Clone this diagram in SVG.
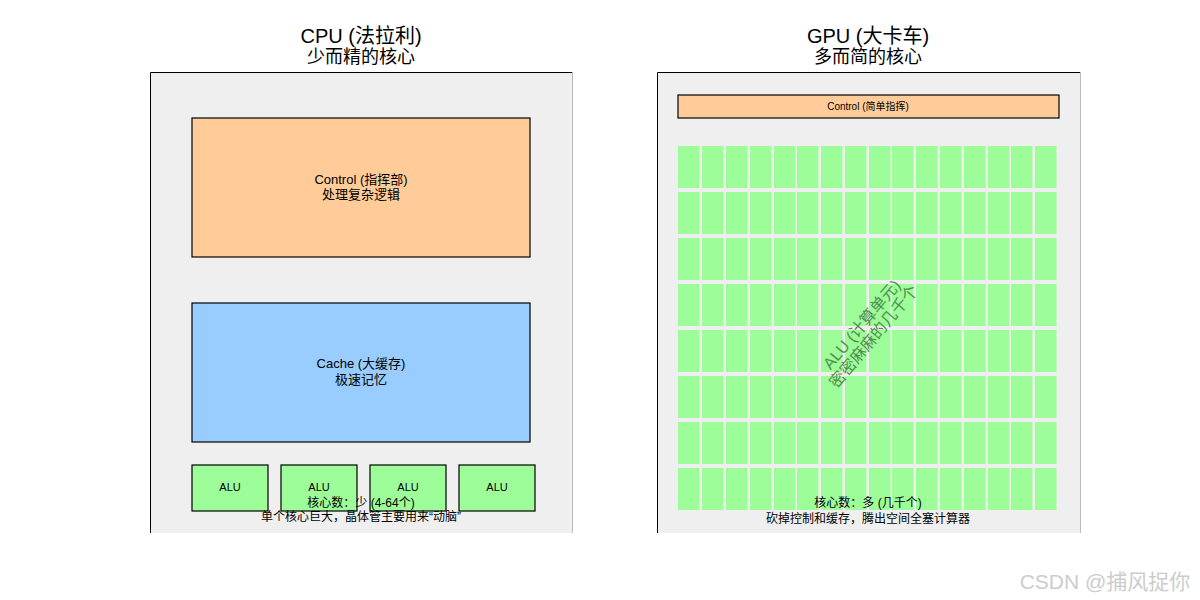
<svg xmlns="http://www.w3.org/2000/svg" width="1200" height="600" viewBox="0 0 1200 600">
<style>
text{font-family:"Liberation Sans","Noto Sans CJK SC",sans-serif;fill:#000;text-anchor:middle}
.panel{fill:#efefef}
.edge{stroke:#000;stroke-width:1;fill:none}
.edge2{stroke:#bbb;stroke-width:1;fill:none}
.box{stroke:#000;stroke-width:1.2}
.alu{fill:#9dfd98}
.t{font-size:20px}
.s{font-size:13px}
.xs{font-size:11px}
</style>
<rect width="1200" height="600" fill="#fff"/>
<g id="cpu">
<text class="t" x="361" y="43">CPU (法拉利)</text>
<text class="t" x="361" y="63" style="font-size:18px">少而精的核心</text>
<rect class="panel" x="150" y="72" width="422" height="461"/>
<path class="edge" d="M150.5 533V72.5H572"/>
<path class="edge2" d="M572.5 72V533"/>
<g id="cpu-control"><rect class="box" x="192" y="118" width="338" height="139" fill="#ffcc99"/>
<text class="s" x="361" y="184">Control (指挥部)</text><text class="s" x="361" y="199">处理复杂逻辑</text></g>
<g id="cpu-cache"><rect class="box" x="192" y="303" width="338" height="139" fill="#99ccff"/>
<text class="s" x="361" y="368">Cache (大缓存)</text><text class="s" x="361" y="384">极速记忆</text></g>
<g id="cpu-alus">
<rect class="box alu" x="192" y="465" width="76" height="46"/><text class="xs" x="230" y="491">ALU</text>
<rect class="box alu" x="281" y="465" width="76" height="46"/><text class="xs" x="319" y="491">ALU</text>
<rect class="box alu" x="370" y="465" width="76" height="46"/><text class="xs" x="408" y="491">ALU</text>
<rect class="box alu" x="459" y="465" width="76" height="46"/><text class="xs" x="497" y="491">ALU</text>
</g>
<text class="s" x="361" y="507" style="font-size:12px">核心数：少 (4-64个)</text>
<text class="s" x="361" y="521" style="font-size:12px">单个核心巨大，晶体管主要用来“动脑”</text>
</g>
<g id="gpu">
<text class="t" x="868" y="43">GPU (大卡车)</text>
<text class="t" x="868" y="63" style="font-size:18px">多而简的核心</text>
<rect class="panel" x="657" y="72" width="423" height="461"/>
<path class="edge" d="M657.5 533V72.5H1080"/>
<path class="edge2" d="M1080.5 72V533"/>
<g id="gpu-control"><rect class="box" x="678" y="95" width="381" height="23" fill="#ffcc99"/>
<text class="xs" x="868" y="110" style="font-size:10px">Control (简单指挥)</text></g>
<g id="gpu-alus" class="alu">
<rect x="678" y="146" width="21.5" height="42"/><rect x="702" y="146" width="21.5" height="42"/><rect x="726" y="146" width="21.5" height="42"/><rect x="750" y="146" width="21.5" height="42"/><rect x="774" y="146" width="21.5" height="42"/><rect x="797" y="146" width="21.5" height="42"/><rect x="821" y="146" width="21.5" height="42"/><rect x="845" y="146" width="21.5" height="42"/><rect x="869" y="146" width="21.5" height="42"/><rect x="892" y="146" width="21.5" height="42"/><rect x="916" y="146" width="21.5" height="42"/><rect x="940" y="146" width="21.5" height="42"/><rect x="964" y="146" width="21.5" height="42"/><rect x="988" y="146" width="21.5" height="42"/><rect x="1011" y="146" width="21.5" height="42"/><rect x="1035" y="146" width="21.5" height="42"/>
<use href="#row" y="0"/>
</g>
<g id="rows">
<use href="#gpu-alus" y="46"/><use href="#gpu-alus" y="92"/><use href="#gpu-alus" y="138"/><use href="#gpu-alus" y="184"/><use href="#gpu-alus" y="230"/><use href="#gpu-alus" y="276"/><use href="#gpu-alus" y="322"/>
</g>
<text transform="translate(866,328) rotate(-50)" style="font-size:16px;fill:#4f8f4f">ALU (计算单元)</text>
<text transform="translate(878,340) rotate(-50)" style="font-size:16px;fill:#4f8f4f">密密麻麻的几千个</text>
<text x="868" y="507" style="font-size:12px">核心数：多 (几千个)</text>
<text x="868" y="523" style="font-size:12px">砍掉控制和缓存，腾出空间全塞计算器</text>
</g>
<text x="1105" y="589" style="font-size:21px;fill:#cccccc">CSDN @捕风捉你</text>
</svg>
